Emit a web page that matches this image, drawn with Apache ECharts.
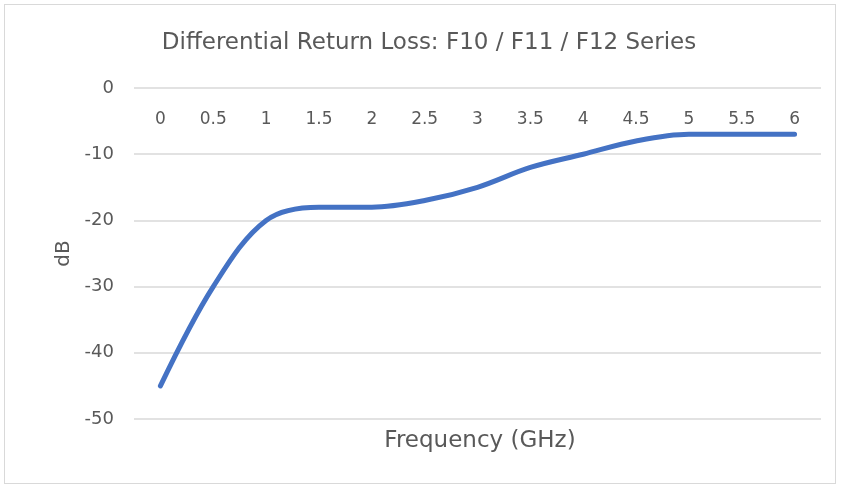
<!DOCTYPE html>
<html>
<head>
<meta charset="utf-8">
<script src="https://cdn.jsdelivr.net/npm/echarts@6/dist/echarts.min.js"></script>
<style>
  html, body { margin: 0; padding: 0; background: #fff; }
  #chart { position: absolute; left: 4px; top: 4px; width: 832px; height: 480px; border: 1px solid #d9d9d9; box-sizing: border-box; }
</style>
</head>
<body>
<div id="chart"></div>
<script>
const frequencies = ['0', '0.5', '1', '1.5', '2', '2.5', '3', '3.5', '4', '4.5', '5', '5.5', '6'];
const returnLoss = [-45, -30, -20, -18, -18, -17, -15, -12, -10, -8, -7, -7, -7];

const textColor = '#595959';
const fontFamily = '"DejaVu Sans", sans-serif';

const chart = echarts.init(document.getElementById('chart'));
chart.setOption({
  animation: false,
  grid: { left: 129, right: 14, top: 83, bottom: 64 },
  xAxis: {
    type: 'category',
    position: 'top',
    data: frequencies,
    axisLine: { show: false },
    axisTick: { show: false },
    axisLabel: { inside: true, margin: 23, color: textColor, fontSize: 17, fontFamily }
  },
  yAxis: {
    type: 'value',
    min: -50,
    max: 0,
    interval: 10,
    name: 'dB',
    nameLocation: 'middle',
    nameGap: 60,
    nameRotate: 90,
    nameTextStyle: { color: textColor, fontSize: 20, fontFamily },
    axisLine: { show: false },
    axisTick: { show: false },
    axisLabel: { margin: 20, color: textColor, fontSize: 18, fontFamily },
    splitLine: { lineStyle: { color: '#d9d9d9', width: 1.5 } }
  },
  graphic: [
    {
      type: 'text',
      x: 424,
      y: 38,
      style: {
        text: 'Differential Return Loss: F10 / F11 / F12 Series',
        fill: textColor, font: '23px ' + fontFamily,
        align: 'center', verticalAlign: 'middle'
      }
    },
    {
      type: 'text',
      x: 475,
      y: 436,
      style: {
        text: 'Frequency (GHz)',
        fill: textColor, font: '23px ' + fontFamily,
        align: 'center', verticalAlign: 'middle'
      }
    }
  ],
  series: [{
    type: 'line',
    data: returnLoss,
    smooth: 0.35,
    symbol: 'none',
    lineStyle: { color: '#4472C4', width: 5, cap: 'round' }
  }]
});
</script>
</body>
</html>
